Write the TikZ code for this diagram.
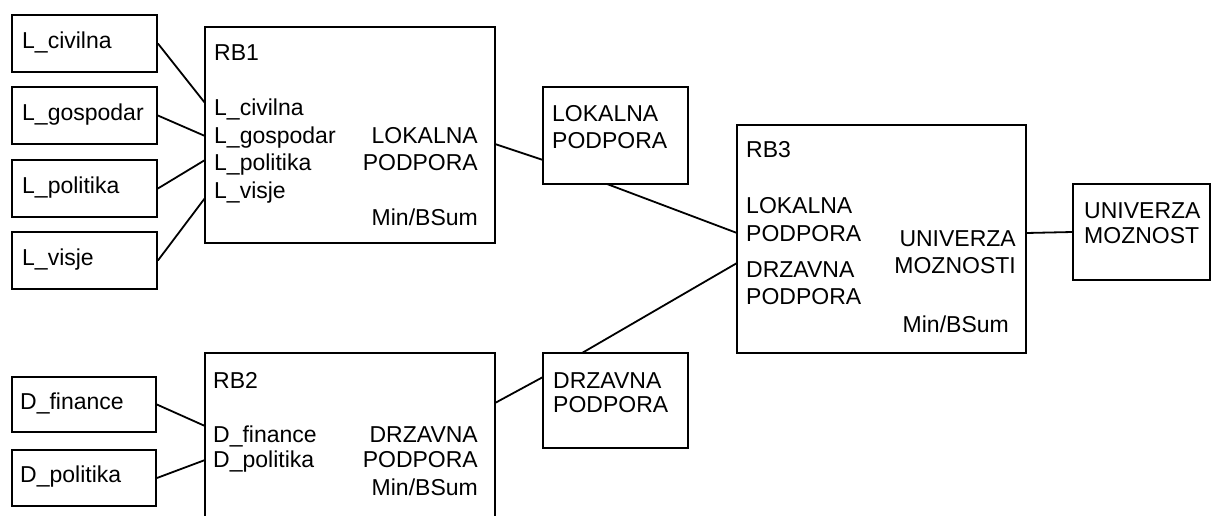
\documentclass[tikz,border=0pt]{standalone}
\usepackage{fontspec}
\setmainfont{Liberation Sans}
\begin{document}
\begin{tikzpicture}[x=1pt,y=-1pt,
  every node/.style={font=\fontsize{23}{27}\selectfont, inner sep=0pt},
  box/.style={draw, line width=1.8pt},
  wire/.style={line width=1.8pt},
  lt/.style={anchor=base west},
  rt/.style={anchor=base east}]
\useasboundingbox (0,0) rectangle (1214,515);
\clip (0,0) rectangle (1214,515);

% input boxes of RB1
\node[box, minimum width=145pt, minimum height=57pt] (lciv) at (84.5,43.5) {};
\node[box, minimum width=145pt, minimum height=57pt] (lgos) at (84.5,115.5) {};
\node[box, minimum width=145pt, minimum height=57pt] (lpol) at (84.5,188.5) {};
\node[box, minimum width=145pt, minimum height=57pt] (lvis) at (84.5,260.5) {};
\node[lt] (tlciv) at (22,48) {L\_civilna};
\node[lt] (tlgos) at (22,120) {L\_gospodar};
\node[lt] (tlpol) at (22,193) {L\_politika};
\node[lt] (tlvis) at (22,265) {L\_visje};

% rule block RB1
\node[box, minimum width=290pt, minimum height=216pt] (rb1) at (350,135) {};
\node[lt] (rb1t) at (214,60) {RB1};
\node[lt] (rb1i1) at (214,115) {L\_civilna};
\node[lt] (rb1i2) at (214,143) {L\_gospodar};
\node[lt] (rb1i3) at (214,170) {L\_politika};
\node[lt] (rb1i4) at (214,198) {L\_visje};
\node[rt] (rb1o1) at (478,143) {LOKALNA};
\node[rt] (rb1o2) at (478,170) {PODPORA};
\node[rt] (rb1m) at (478,225) {Min/BSum};

% intermediate LOKALNA PODPORA
\node[box, minimum width=145pt, minimum height=97pt] (lp) at (615.5,135.5) {};
\node[lt] (lpt1) at (552,121) {LOKALNA};
\node[lt] (lpt2) at (552,148) {PODPORA};

% rule block RB3
\node[box, minimum width=289pt, minimum height=228pt] (rb3) at (881.5,239) {};
\node[lt] (rb3t) at (746,157) {RB3};
\node[lt] (rb3i1) at (746,213) {LOKALNA};
\node[lt] (rb3i2) at (746,241) {PODPORA};
\node[lt] (rb3i3) at (746,277) {DRZAVNA};
\node[lt] (rb3i4) at (746,304) {PODPORA};
\node[rt] (rb3o1) at (1016,246) {UNIVERZA};
\node[rt] (rb3o2) at (1016,273) {MOZNOSTI};
\node[rt] (rb3m) at (1009,332) {Min/BSum};

% output
\node[box, minimum width=137pt, minimum height=96pt] (um) at (1141.5,232) {};
\node[lt] (umt1) at (1084,218) {UNIVERZA};
\node[lt] (umt2) at (1084,243) {MOZNOST};

% input boxes of RB2
\node[box, minimum width=144pt, minimum height=55pt] (dfin) at (84,404.5) {};
\node[box, minimum width=144pt, minimum height=56pt] (dpol) at (84,478) {};
\node[lt] (tdfin) at (20,409) {D\_finance};
\node[lt] (tdpol) at (20,482) {D\_politika};

% rule block RB2
\node[box, minimum width=290pt, minimum height=207pt] (rb2) at (350,456.5) {};
\node[lt] (rb2t) at (213,388) {RB2};
\node[lt] (rb2i1) at (213,442) {D\_finance};
\node[lt] (rb2i2) at (213,467) {D\_politika};
\node[rt] (rb2o1) at (478,442) {DRZAVNA};
\node[rt] (rb2o2) at (478,467) {PODPORA};
\node[rt] (rb2m) at (478,495) {Min/BSum};

% intermediate DRZAVNA PODPORA
\node[box, minimum width=145pt, minimum height=95pt] (dp) at (615.5,400.5) {};
\node[lt] (dpt1) at (553,388) {DRZAVNA};
\node[lt] (dpt2) at (553,412) {PODPORA};

% ports on the block edges
\coordinate (rb1a) at (205,103);
\coordinate (rb1b) at (205,136);
\coordinate (rb1c) at (205,160);
\coordinate (rb1d) at (205,198);
\coordinate (rb1out) at (495,144);
\coordinate (lpin) at (543,160);
\coordinate (lpout) at (607,184);
\coordinate (rb3a) at (737,233);
\coordinate (rb3b) at (737,263);
\coordinate (rb3out) at (1026,233);
\coordinate (rb2a) at (205,426);
\coordinate (rb2b) at (205,460);
\coordinate (rb2out) at (495,403);
\coordinate (dpin) at (543,377);
\coordinate (dpout) at (582,353);

% connectors
\draw[wire] (lciv.east) -- (rb1a);
\draw[wire] (lgos.east) -- (rb1b);
\draw[wire] (lpol.east) -- (rb1c);
\draw[wire] (lvis.east) -- (rb1d);
\draw[wire] (rb1out) -- (lpin);
\draw[wire] (lpout) -- (rb3a);
\draw[wire] (dfin.east) -- (rb2a);
\draw[wire] (dpol.east) -- (rb2b);
\draw[wire] (rb2out) -- (dpin);
\draw[wire] (dpout) -- (rb3b);
\draw[wire] (rb3out) -- (um.west);
\end{tikzpicture}
\end{document}
